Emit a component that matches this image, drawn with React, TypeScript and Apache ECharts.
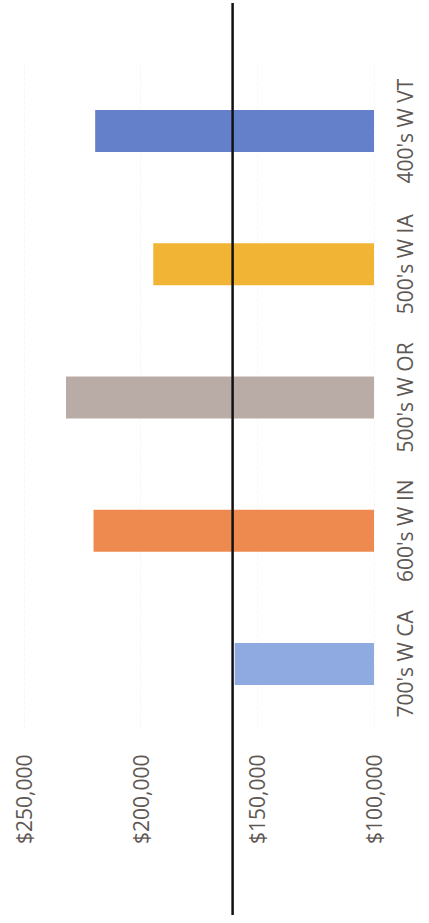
import React, { useEffect, useRef } from "react";
import * as echarts from "echarts";

const categories = ["700's W CA", "600's W IN", "500's W OR", "500's W IA", "400's W VT"];
const values = [159700, 220200, 232000, 194600, 219500];
const barColors = ["#8eaae0", "#ee8a4f", "#b9aca7", "#f1b434", "#6580cb"];
const referenceValue = 160600;
const axisMin = 100000;
const axisMax = 250000;
const axisStep = 50000;

const fmt = (v: number) => "$" + v.toLocaleString("en-US");

export default function App() {
  const ref = useRef<HTMLDivElement>(null);
  useEffect(() => {
    if (!ref.current) return;
    const chart = echarts.init(ref.current, undefined, { renderer: "svg" });
    const font = "'Open Sans', 'Liberation Sans', sans-serif";
    chart.setOption({
      animation: false,
      backgroundColor: "#ffffff",
      grid: [
        { left: 24, right: 55, top: 64.5, bottom: 192.5 },
        { left: 24, right: 55, top: 3, bottom: 8 },
      ],
      xAxis: [
        {
          type: "value",
          gridIndex: 0,
          inverse: true,
          min: axisMin,
          max: axisMax,
          interval: axisStep,
          position: "bottom",
          axisLine: { show: false },
          axisTick: { show: false },
          splitLine: { show: true, lineStyle: { color: "#f7f7f7", width: 1, type: "dashed" } },
          axisLabel: {
            rotate: 90,
            margin: 24,
            formatter: (v: number) => fmt(v),
            color: "#5e5754",
            fontSize: 21,
            fontFamily: font,
          },
        },
        {
          type: "value",
          gridIndex: 1,
          inverse: true,
          min: axisMin,
          max: axisMax,
          show: false,
        },
      ],
      yAxis: [
        {
          type: "category",
          gridIndex: 0,
          data: categories,
          position: "right",
          axisLine: { show: false },
          axisTick: { show: false },
          splitLine: { show: false },
          axisLabel: {
            interval: 0,
            hideOverlap: false,
            rotate: 90,
            margin: 20,
            color: "#5e5754",
            fontSize: 21,
            fontFamily: font,
          },
        },
        { type: "value", gridIndex: 1, min: 0, max: 1, show: false },
      ],
      series: [
        {
          type: "bar",
          xAxisIndex: 0,
          yAxisIndex: 0,
          barWidth: "31.5%",
          data: values.map((v, i) => ({ value: v, itemStyle: { color: barColors[i] } })),
          z: 2,
        },
        {
          type: "line",
          xAxisIndex: 1,
          yAxisIndex: 1,
          symbol: "none",
          lineStyle: { color: "#111111", width: 2.5 },
          data: [
            [referenceValue, 0],
            [referenceValue, 1],
          ],
          z: 5,
        },
      ],
    });
    return () => chart.dispose();
  }, []);
  return (
    <div
      ref={ref}
      style={{ position: "fixed", left: 0, top: 0, width: 429, height: 923, background: "#fff" }}
    />
  );
}
